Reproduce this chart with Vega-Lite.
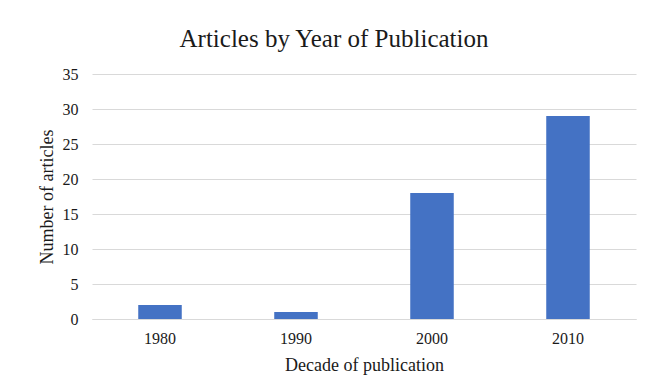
{
  "$schema": "https://vega.github.io/schema/vega-lite/v6.json",
  "width": 544,
  "height": 245,
  "autosize": {"type": "none"},
  "padding": {"left": 92, "top": 74, "right": 21, "bottom": 70},
  "background": "white",
  "title": {
    "text": "Articles by Year of Publication",
    "font": "Liberation Serif",
    "fontSize": 25,
    "fontWeight": "normal",
    "color": "#1a1a1a",
    "anchor": "middle",
    "dx": -30,
    "offset": 14
  },
  "data": {
    "values": [
      {"decade": "1980", "articles": 2},
      {"decade": "1990", "articles": 1},
      {"decade": "2000", "articles": 18},
      {"decade": "2010", "articles": 29}
    ]
  },
  "mark": {"type": "bar", "color": "#4472c4"},
  "encoding": {
    "x": {
      "field": "decade",
      "type": "ordinal",
      "scale": {"paddingInner": 0.68, "paddingOuter": 0.34},
      "axis": {
        "title": "Decade of publication",
        "labelAngle": 0,
        "ticks": false,
        "domainColor": "#d9d9d9",
        "labelPadding": 11,
        "titlePadding": 10
      }
    },
    "y": {
      "field": "articles",
      "type": "quantitative",
      "scale": {"domain": [0, 35]},
      "axis": {
        "title": "Number of articles",
        "values": [0, 5, 10, 15, 20, 25, 30, 35],
        "ticks": false,
        "domain": false,
        "labelPadding": 14,
        "titlePadding": 6,
        "gridColor": "#d9d9d9"
      }
    }
  },
  "config": {
    "view": {"stroke": null},
    "axis": {
      "labelFont": "Liberation Serif",
      "labelFontSize": 16,
      "labelColor": "#1a1a1a",
      "titleFont": "Liberation Serif",
      "titleFontSize": 18,
      "titleFontWeight": "normal",
      "titleColor": "#1a1a1a"
    }
  }
}
